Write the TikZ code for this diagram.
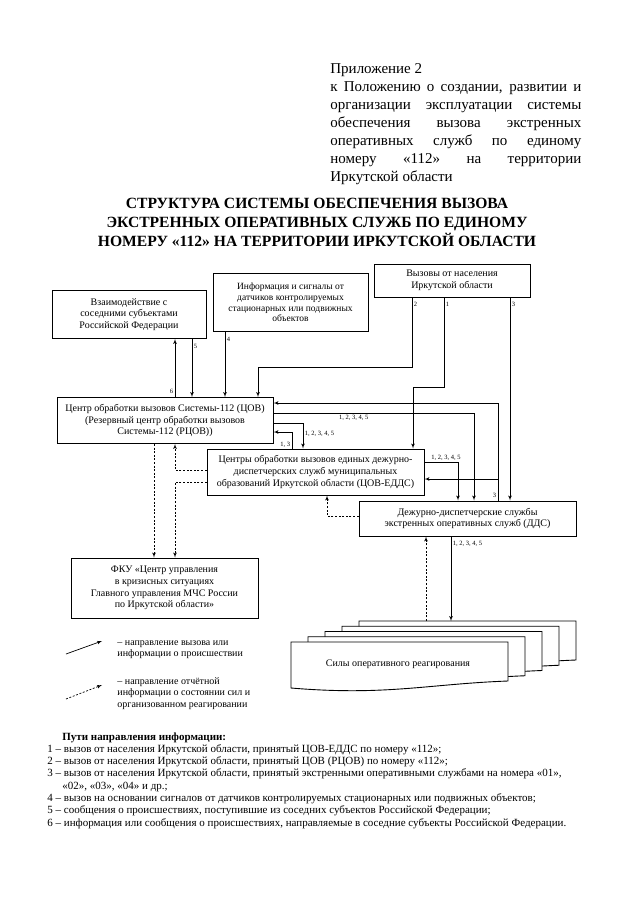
\documentclass[tikz,border=0pt]{standalone}
\usepackage{fontspec}
\setmainfont{Liberation Serif}
\usetikzlibrary{shapes,arrows,positioning,calc}

\begin{document}
\begin{tikzpicture}[x=1pt, y=-1pt, thick]
  % Styles
  \tikzstyle{box} = [rectangle, draw, line width=1pt, fill=white, align=center, inner sep=1pt, font=\fontsize{10}{11.8}\selectfont]
  \tikzstyle{num} = [inner sep=1.5pt, font=\fontsize{6.5}{7}\selectfont]
  \tikzstyle{arrow} = [draw, -latex', line width=0.7pt]
  \tikzstyle{report} = [arrow, dash pattern=on 2pt off 1.6pt]
  \tikzstyle{sheet} = [draw, fill=white, line width=0.9pt]
  \tikzstyle{note} = [align=left, inner sep=0pt, anchor=north west, font=\fontsize{10}{11.6}\selectfont]

  \useasboundingbox (0,0) rectangle (640,905);

  % Header and title
  \node[anchor=north west, inner sep=0pt, text width=251pt, align=justify, font=\fontsize{15}{18}\selectfont] (header) at (330,63)
    {Приложение 2\\к Положению о создании, развитии и\linebreak организации эксплуатации системы\linebreak обеспечения вызова экстренных\linebreak оперативных служб по единому\linebreak номеру «112» на территории\linebreak Иркутской области};
  \node[align=center, inner sep=0pt, font=\bfseries\fontsize{15.6}{18.7}\selectfont] (title) at (317,222.5)
    {СТРУКТУРА СИСТЕМЫ ОБЕСПЕЧЕНИЯ ВЫЗОВА\\ЭКСТРЕННЫХ ОПЕРАТИВНЫХ СЛУЖБ ПО ЕДИНОМУ\\НОМЕРУ «112» НА ТЕРРИТОРИИ ИРКУТСКОЙ ОБЛАСТИ};

  % Nodes
  \node[box, minimum width=154pt, minimum height=48pt] (vzaim) at (129,314.5) {Взаимодействие с\\соседними субъектами\\Российской Федерации};
  \node[box, minimum width=155pt, minimum height=58pt, font=\fontsize{9.5}{10.8}\selectfont] (info) at (290.5,302.5) {Информация и сигналы от\\датчиков контролируемых\\стационарных или подвижных\\объектов};
  \node[box, minimum width=156pt, minimum height=33pt] (vyzovy) at (452,280.5) {Вызовы от населения\\Иркутской области};
  \node[box, minimum width=216pt, minimum height=46pt] (cov) at (165,420.5) {Центр обработки вызовов Системы-112 (ЦОВ)\\(Резервный центр обработки вызовов\\Системы-112 (РЦОВ))};
  \node[box, minimum width=217pt, minimum height=46pt] (edds) at (315.5,472) {Центры обработки вызовов единых дежурно-\\диспетчерских служб муниципальных\\образований Иркутской области (ЦОВ-ЕДДС)};
  \node[box, minimum width=217pt, minimum height=35pt] (dds) at (467.5,518.5) {Дежурно-диспетчерские службы\\экстренных оперативных служб (ДДС)};
  \node[box, minimum width=187pt, minimum height=60pt] (fku) at (164.5,588) {ФКУ «Центр управления\\в кризисных ситуациях\\Главного управления МЧС России\\по Иркутской области»};

  % Stack of sheets
  \foreach \i in {4,3,2,1,0} {
    \pgfmathsetmacro{\sx}{291+17*\i}
    \pgfmathsetmacro{\sy}{642-5.25*\i}
    \draw[sheet] (\sx,\sy) -- ++(217,0) -- ++(0,39) .. controls +(-80,3) and +(95,8) .. (\sx,\sy+46) -- cycle;
  }
  \node[minimum width=217pt, minimum height=39pt, inner sep=0pt, anchor=north west] (sily) at (359,621) {};
  \node[font=\fontsize{10}{12}\selectfont] (silytext) at (398,664) {Силы оперативного реагирования};

  % Edges
  \draw[arrow] (cov.north -| 175,0) -- node[num, pos=0.1, left] {6} (vzaim.south -| 175,0);
  \draw[arrow] (vzaim.south -| 192,0) -- node[num, pos=0.13, right] {5} (cov.north -| 192,0);
  \draw[arrow] (info.south -| 225,0) -- node[num, pos=0.12, right] {4} (cov.north -| 225,0);
  \draw[arrow] (vyzovy.south -| 412,0) -- node[num, pos=0.1, right] {2} (412,367) -| (cov.north -| 258,0);
  \draw[arrow] (vyzovy.south -| 444,0) -- node[num, pos=0.08, right] {1} (444,387) -| (edds.north -| 413,0);
  \draw[arrow] (vyzovy.south -| 510,0) -- node[num, pos=0.035, right] {3} (dds.north -| 510,0);

  \coordinate (fork) at (498,479);
  \draw[arrow] (dds.north -| 498,0) -- node[num, pos=0.05, left] {3} (498,403) -- (cov.east |- 0,403);
  \draw[arrow] (fork) -- (edds.east |- fork);

  \draw[arrow] (cov.east |- 0,413) -| node[num, pos=0.2, below] {1, 2, 3, 4, 5} (dds.north -| 474,0);
  \draw[arrow] (cov.east |- 0,423) -| node[num, pos=0.71, right] {1, 2, 3, 4, 5} (edds.north -| 303,0);
  \draw[arrow] (edds.north -| 292,0) |- node[num, pos=0.12, left] {1, 3} (cov.east |- 0,432);
  \draw[arrow] (edds.east |- 0,462) -| node[num, pos=0.32, above] {1, 2, 3, 4, 5} (dds.north -| 458,0);
  \draw[arrow] (dds.south -| 451,0) -- node[num, pos=0.09, right] {1, 2, 3, 4, 5} (sily.north -| 451,0);

  \draw[report] (sily.north -| 426,0) -- (dds.south -| 426,0);
  \draw[report] (dds.west |- 0,516) -| (edds.south -| 327,0);
  \draw[report] (edds.west |- 0,470) -| (cov.south -| 175,0);
  \draw[report] (edds.west |- 0,482) -| (fku.north -| 175,0);
  \draw[report] (cov.south -| 154,0) -- (fku.north -| 154,0);

  % Legend
  \coordinate (callfrom) at (66,654);
  \coordinate (callto) at (102,641);
  \coordinate (repfrom) at (66,699);
  \coordinate (repto) at (102,685);
  \draw[arrow] (callfrom) -- (callto);
  \draw[report] (repfrom) -- (repto);
  \node[note] (callnote) at (117,640) {– направление вызова или\\информации о происшествии};
  \node[note] (repnote) at (117,677) {– направление отчётной\\информации о состоянии сил и\\организованном реагировании};

  % Paths
  \node[anchor=north west, align=left, inner sep=0pt, font=\fontsize{11}{12.3}\selectfont] (paths) at (47,732)
    {\hspace*{15pt}\textbf{Пути направления информации:}\\
     1 – вызов от населения Иркутской области, принятый ЦОВ-ЕДДС по номеру «112»;\\
     2 – вызов от населения Иркутской области, принятый ЦОВ (РЦОВ) по номеру «112»;\\
     3 – вызов от населения Иркутской области, принятый экстренными оперативными службами на номера «01»,\\
     \hspace*{15pt}«02», «03», «04» и др.;\\
     4 – вызов на основании сигналов от датчиков контролируемых стационарных или подвижных объектов;\\
     5 – сообщения о происшествиях, поступившие из соседних субъектов Российской Федерации;\\
     6 – информация или сообщения о происшествиях, направляемые в соседние субъекты Российской Федерации.};
\end{tikzpicture}
\end{document}
